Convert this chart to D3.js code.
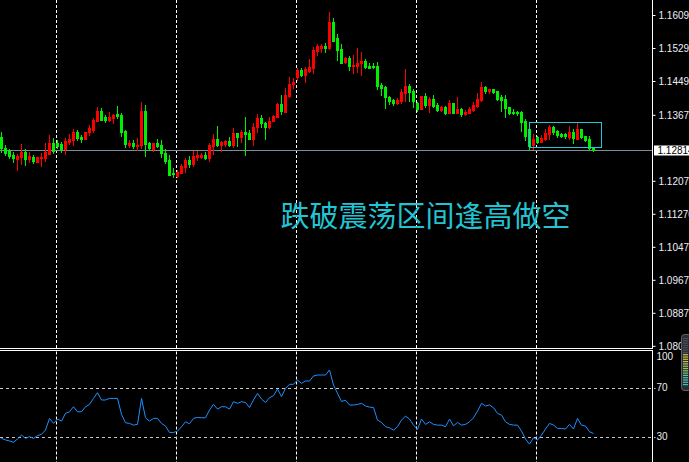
<!DOCTYPE html>
<html><head><meta charset="utf-8">
<script src="https://cdn.jsdelivr.net/npm/d3@7"></script>
<style>html,body{margin:0;padding:0;background:#000;overflow:hidden}</style>
</head><body>
<svg id="chart" width="689" height="462"></svg>
<script>
// ---- DATA ----
const opens = [1.1313,1.1287,1.1279,1.1270,1.1260,1.1265,1.1277,1.1260,1.1265,1.1253,
1.1262,1.1262,1.1272,1.1299,1.1299,1.1296,1.1284,1.1301,1.1306,1.1325,
1.1313,1.1308,1.1325,1.1330,1.1352,1.1376,1.1362,1.1354,1.1359,1.1369,
1.1367,1.1328,1.1294,1.1299,1.1291,1.1294,1.1376,1.1299,1.1284,1.1299,
1.1294,1.1274,1.1257,1.1226,1.1219,1.1226,1.1241,1.1257,1.1248,1.1265,
1.1265,1.1270,1.1262,1.1291,1.1308,1.1294,1.1296,1.1304,1.1294,1.1323,
1.1313,1.1325,1.1323,1.1308,1.1337,1.1359,1.1347,1.1337,1.1352,1.1362,
1.1393,1.1374,1.1413,1.1442,1.1459,1.1476,1.1464,1.1473,1.1481,1.1522,
1.1529,1.1534,1.1529,1.1592,1.1553,1.1527,1.1495,1.1505,1.1485,1.1485,
1.1493,1.1497,1.1485,1.1485,1.1485,1.1439,1.1434,1.1410,1.1403,1.1396,
1.1401,1.1420,1.1437,1.1425,1.1396,1.1381,1.1413,1.1391,1.1405,1.1391,
1.1379,1.1386,1.1371,1.1396,1.1371,1.1381,1.1369,1.1371,1.1379,1.1388,
1.1403,1.1434,1.1425,1.1430,1.1425,1.1410,1.1405,1.1386,1.1374,1.1374,
1.1374,1.1352,1.1333,1.1294,1.1313,1.1301,1.1308,1.1321,1.1337,1.1328,
1.1321,1.1321,1.1313,1.1325,1.1308,1.1333,1.1316,1.1308,1.1287];
const highs = [1.1325,1.1294,1.1284,1.1277,1.1272,1.1296,1.1284,1.1277,1.1270,1.1265,
1.1274,1.1299,1.1318,1.1311,1.1306,1.1301,1.1311,1.1321,1.1333,1.1330,
1.1318,1.1325,1.1342,1.1359,1.1386,1.1384,1.1367,1.1374,1.1369,1.1388,
1.1371,1.1330,1.1306,1.1306,1.1311,1.1398,1.1391,1.1301,1.1299,1.1308,
1.1306,1.1284,1.1270,1.1238,1.1233,1.1248,1.1262,1.1267,1.1279,1.1279,
1.1274,1.1277,1.1299,1.1321,1.1340,1.1304,1.1306,1.1313,1.1335,1.1323,
1.1330,1.1362,1.1330,1.1347,1.1369,1.1367,1.1350,1.1362,1.1367,1.1396,
1.1415,1.1432,1.1459,1.1456,1.1481,1.1481,1.1483,1.1502,1.1531,1.1539,
1.1539,1.1541,1.1616,1.1602,1.1563,1.1539,1.1507,1.1510,1.1512,1.1529,
1.1519,1.1502,1.1493,1.1493,1.1495,1.1444,1.1437,1.1413,1.1405,1.1408,
1.1430,1.1478,1.1442,1.1430,1.1398,1.1413,1.1420,1.1410,1.1415,1.1396,
1.1388,1.1388,1.1403,1.1396,1.1410,1.1384,1.1379,1.1386,1.1398,1.1420,
1.1447,1.1437,1.1430,1.1430,1.1425,1.1415,1.1415,1.1386,1.1381,1.1376,
1.1376,1.1357,1.1335,1.1321,1.1316,1.1318,1.1333,1.1342,1.1340,1.1330,
1.1323,1.1323,1.1340,1.1333,1.1347,1.1333,1.1316,1.1316,1.1289];
const lows = [1.1277,1.1270,1.1262,1.1253,1.1233,1.1248,1.1245,1.1253,1.1250,1.1253,
1.1243,1.1255,1.1272,1.1274,1.1287,1.1277,1.1272,1.1296,1.1294,1.1306,
1.1301,1.1308,1.1318,1.1325,1.1352,1.1354,1.1350,1.1352,1.1347,1.1359,
1.1316,1.1289,1.1289,1.1287,1.1282,1.1287,1.1267,1.1282,1.1279,1.1289,
1.1265,1.1250,1.1221,1.1216,1.1216,1.1226,1.1228,1.1241,1.1243,1.1257,
1.1262,1.1260,1.1255,1.1272,1.1291,1.1279,1.1291,1.1291,1.1289,1.1291,
1.1301,1.1270,1.1308,1.1294,1.1325,1.1337,1.1308,1.1335,1.1352,1.1362,
1.1369,1.1374,1.1410,1.1432,1.1451,1.1461,1.1447,1.1471,1.1468,1.1512,
1.1519,1.1519,1.1527,1.1551,1.1500,1.1493,1.1493,1.1476,1.1468,1.1471,
1.1464,1.1481,1.1481,1.1481,1.1430,1.1415,1.1384,1.1393,1.1391,1.1393,
1.1396,1.1401,1.1401,1.1386,1.1376,1.1381,1.1386,1.1374,1.1386,1.1376,
1.1376,1.1369,1.1371,1.1371,1.1371,1.1364,1.1367,1.1371,1.1376,1.1386,
1.1401,1.1420,1.1420,1.1420,1.1403,1.1376,1.1362,1.1369,1.1369,1.1367,
1.1328,1.1306,1.1282,1.1284,1.1299,1.1301,1.1306,1.1308,1.1321,1.1313,
1.1313,1.1311,1.1308,1.1299,1.1308,1.1311,1.1304,1.1282,1.1279];
const closes = [1.1287,1.1274,1.1267,1.1262,1.1267,1.1277,1.1260,1.1267,1.1255,1.1265,
1.1265,1.1277,1.1299,1.1279,1.1291,1.1284,1.1304,1.1308,1.1325,1.1311,
1.1308,1.1325,1.1335,1.1354,1.1376,1.1354,1.1354,1.1362,1.1367,1.1364,
1.1325,1.1296,1.1299,1.1291,1.1294,1.1376,1.1296,1.1287,1.1299,1.1291,
1.1274,1.1255,1.1221,1.1224,1.1228,1.1243,1.1257,1.1248,1.1267,1.1270,
1.1270,1.1262,1.1294,1.1308,1.1294,1.1301,1.1304,1.1294,1.1323,1.1313,
1.1325,1.1321,1.1308,1.1337,1.1359,1.1347,1.1337,1.1352,1.1364,1.1393,
1.1376,1.1415,1.1442,1.1447,1.1476,1.1464,1.1478,1.1483,1.1524,1.1534,
1.1534,1.1529,1.1592,1.1546,1.1524,1.1493,1.1505,1.1485,1.1488,1.1493,
1.1497,1.1483,1.1481,1.1483,1.1437,1.1432,1.1410,1.1401,1.1396,1.1403,
1.1422,1.1437,1.1422,1.1401,1.1381,1.1413,1.1391,1.1405,1.1388,1.1379,
1.1386,1.1371,1.1396,1.1371,1.1381,1.1369,1.1374,1.1381,1.1391,1.1405,
1.1434,1.1425,1.1430,1.1422,1.1405,1.1403,1.1384,1.1371,1.1371,1.1371,
1.1350,1.1316,1.1291,1.1308,1.1301,1.1311,1.1323,1.1337,1.1325,1.1318,
1.1316,1.1316,1.1325,1.1311,1.1333,1.1313,1.1306,1.1287,1.12814];
const rsiValues = [28.9,27.6,26.8,25.7,28.4,31.6,28.9,30.3,28.9,31.1,
32.2,35.7,45.2,41.1,44.6,43.0,49.3,50.6,54.7,50.6,
50.6,54.7,56.6,61.5,66.2,60.2,60.2,61.5,61.5,61.5,
48.5,41.6,41.1,39.7,40.3,61.5,45.7,43.0,45.2,45.2,
41.1,38.9,33.7,33.7,34.8,38.4,42.4,40.8,45.2,46.0,
45.7,45.7,52.0,56.6,52.8,54.7,54.7,52.8,58.8,57.5,
58.8,58.2,54.1,60.2,65.6,61.0,58.2,62.1,63.7,69.2,
62.9,69.7,73.0,73.0,76.5,73.8,75.7,75.7,79.8,80.6,
80.6,80.6,84.7,72.4,65.6,59.0,60.0,56.1,56.1,56.6,
57.5,55.3,54.4,54.1,43.8,41.9,38.4,37.5,35.6,38.4,
43.8,47.1,44.6,39.7,36.2,44.6,40.3,42.4,40.3,39.7,
39.7,38.4,44.6,39.1,41.9,39.7,40.3,42.4,45.7,51.1,
57.5,55.3,56.1,53.9,49.3,47.9,42.4,40.3,39.7,39.7,
34.8,28.3,24.2,29.4,27.5,31.6,36.5,41.1,39.7,37.0,
37.0,36.5,40.3,36.5,45.2,39.7,38.9,34.3,32.9];
const priceTicks = [1.16090,1.15290,1.14490,1.13670,1.12070,1.11270,1.10470,1.09670,1.08870,1.08070];
const priceTickLabels = ["1.16090","1.15290","1.14490","1.13670","1.12070","1.11270","1.10470","1.09670","1.08870","1.08070"];
const rsiTicks = [100,70,30];
const rsiLevels = [70,30];
const gridIdx = [14,44,74,104,134];
const currentPrice = 1.12814;
const rangeBox = {start:132, end:150, top:1.1350, bottom:1.1290};
const annotation = "跌破震荡区间逢高做空";

// ---- LAYOUT ----
const W=689, H=462, axisX=652.5;
const mainTop=0, mainBottom=348.5, subTop=350.5;
const svg = d3.select("#chart");
svg.append("rect").attr("width",W).attr("height",H).attr("fill","#000");

const x = d3.scaleLinear().domain([0,148]).range([1.5,593.5]);
const y = d3.scaleLinear().domain([1.16090,1.08070]).range([15,345.8]);
const ry = d3.scaleLinear().domain([0,100]).range([473.75,351.25]);
const px = v => Math.round(y(v));

// grid verticals
const grid = svg.append("g").attr("stroke","#fff").attr("stroke-width",1).attr("stroke-dasharray","3,2");
gridIdx.forEach(i=>{
  const gx = x(i)-1;
  grid.append("line").attr("x1",gx).attr("x2",gx).attr("y1",0).attr("y2",mainBottom-0.5);
  grid.append("line").attr("x1",gx).attr("x2",gx).attr("y1",subTop+1).attr("y2",H);
});

// current price line
const cpy = px(currentPrice)+0.5;
svg.append("line").attr("x1",0).attr("x2",axisX).attr("y1",cpy).attr("y2",cpy)
  .attr("stroke","#7f8c9c").attr("stroke-width",1);

// candles
const idx = d3.range(opens.length);
const up = i => closes[i] > opens[i];
const colorOf = i => up(i) ? "#ff0000" : "#00ee00";
const cg = svg.append("g").attr("shape-rendering","crispEdges");
cg.selectAll("rect.wick").data(idx).join("rect").attr("class","wick")
  .attr("x",i=>x(i)-0.5).attr("width",1)
  .attr("y",i=>px(highs[i]))
  .attr("height",i=>Math.max(1,px(lows[i])-px(highs[i])+1))
  .attr("fill",colorOf);
cg.selectAll("rect.body").data(idx).join("rect").attr("class","body")
  .attr("x",i=>x(i)-1.5).attr("width",3)
  .attr("y",i=>px(Math.max(opens[i],closes[i])))
  .attr("height",i=>Math.max(1,px(Math.min(opens[i],closes[i]))-px(Math.max(opens[i],closes[i]))+1))
  .attr("fill",colorOf);

// range box
svg.append("rect")
  .attr("x",x(rangeBox.start)).attr("y",px(rangeBox.top)+0.5)
  .attr("width",x(rangeBox.end)-x(rangeBox.start))
  .attr("height",px(rangeBox.bottom)-px(rangeBox.top))
  .attr("fill","none").attr("stroke","#22c8d8").attr("stroke-width",1);

// annotation text
svg.append("text").attr("x",x(70)-1).attr("y",227)
  .attr("font-family","'Noto Sans CJK SC','Noto Sans CJK JP',sans-serif")
  .attr("font-size",29).attr("fill","#22c4d4").text(annotation);

// panel borders
const border = svg.append("g").attr("stroke","#fff").attr("stroke-width",1).attr("shape-rendering","crispEdges");
border.append("line").attr("x1",0).attr("x2",axisX).attr("y1",mainBottom).attr("y2",mainBottom);
border.append("line").attr("x1",0).attr("x2",axisX).attr("y1",subTop).attr("y2",subTop);
border.append("line").attr("x1",axisX).attr("x2",axisX).attr("y1",0).attr("y2",mainBottom);
border.append("line").attr("x1",axisX).attr("x2",axisX).attr("y1",subTop).attr("y2",H);

// price axis
const pAxis = d3.axisRight(y).tickValues(priceTicks)
  .tickFormat((d,i)=>priceTickLabels[i]).tickSize(3).tickPadding(3);
const pa = svg.append("g").attr("transform",`translate(${axisX},0)`).call(pAxis);
pa.select(".domain").remove();
pa.selectAll("line").attr("stroke","#fff");
pa.selectAll("text").attr("fill","#eeeef4").attr("font-family","'Liberation Sans',Arial,sans-serif").attr("font-size",10);

// current price label
svg.append("rect").attr("x",654).attr("y",cpy-5).attr("width",36).attr("height",10).attr("fill","#fff");
svg.append("text").attr("x",657.5).attr("y",cpy+3.5).attr("fill","#000")
  .attr("font-family","'Liberation Sans',Arial,sans-serif").attr("font-size",10)
  .text(d3.format(".5f")(currentPrice));

// RSI levels
const lv = svg.append("g").attr("stroke","#c8c8c8").attr("stroke-width",1).attr("stroke-dasharray","3,3");
rsiLevels.forEach(v=>{
  const ly = Math.round(ry(v))+0.5;
  lv.append("line").attr("x1",0).attr("x2",axisX+3).attr("y1",ly).attr("y2",ly);
});
// RSI axis labels
const rAxis = d3.axisRight(ry).tickValues(rsiTicks).tickSize(0).tickPadding(4);
const ra = svg.append("g").attr("transform",`translate(${axisX},0)`).call(rAxis);
ra.select(".domain").remove();
ra.selectAll(".tick").attr("transform",d=>`translate(0,${Math.max(ry(d), subTop+6.5)})`);
ra.selectAll("text").attr("fill","#f0ece8").attr("font-family","'Liberation Sans',Arial,sans-serif").attr("font-size",10);

// RSI line
const line = d3.line().x((d,i)=>x(i)).y(d=>ry(d));
svg.append("path").datum(rsiValues).attr("d",line)
  .attr("fill","none").attr("stroke","#1e90ff").attr("stroke-width",1);

// signal gadget (bottom-right)
const gd = svg.append("g");
gd.append("rect").attr("x",681.5).attr("y",334.5).attr("width",10).attr("height",56).attr("rx",3)
  .attr("fill","#2b2e35").attr("stroke","#5d626c");
const barCols = ["#4a4d55","#4a4d55","#4a4d55","#4a4d55","#4a4d55","#4a4d55","#4a4d55",
  "#c9c443","#c9c443","#c9c443","#c2c647","#b5c84c","#a8c952","#98ca5a","#86cb66","#6fcc7a",
  "#5ccb91","#4fc9a3","#46c6b0","#40c3b8","#3dc0bc"];
barCols.forEach((c,k)=>{
  gd.append("rect").attr("x",683).attr("y",338+k*2.3).attr("width",5).attr("height",1.2).attr("fill",c);
});
</script>
</body></html>
